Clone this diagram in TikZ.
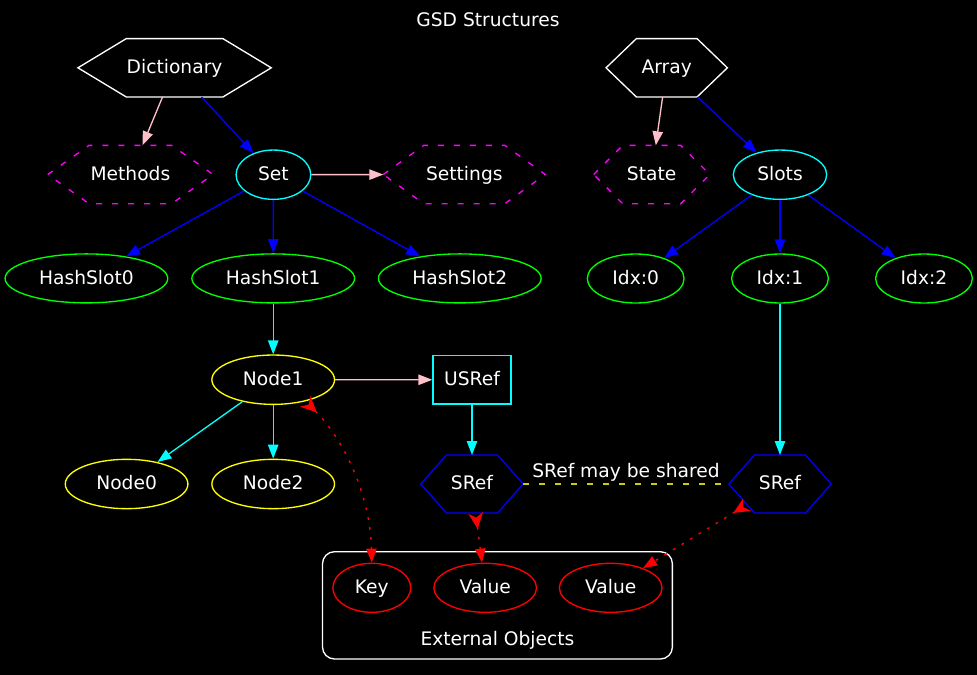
\documentclass[tikz,border=0pt]{standalone}
\usepackage{fontspec}
\setmainfont{DejaVu Sans}
\usetikzlibrary{shapes.geometric,arrows.meta,calc}
\definecolor{gvpink}{RGB}{255,192,203}
\definecolor{gvyel}{RGB}{205,205,0}
\definecolor{gvgreen}{RGB}{0,255,0}
\definecolor{gvcyan}{RGB}{0,255,255}
\definecolor{gvmag}{RGB}{255,0,255}
\definecolor{gvyellow}{RGB}{255,255,0}
\definecolor{gvblue}{RGB}{0,0,255}
\definecolor{gvred}{RGB}{255,0,0}
\definecolor{gvwhite}{RGB}{255,255,255}
\newcommand\gvhex[2]{%
  \draw[line width=1bp,#2] (#1.west) -- ($(#1.north west)!.25!(#1.north east)$) -- ($(#1.north west)!.75!(#1.north east)$) -- (#1.east) -- ($(#1.south west)!.75!(#1.south east)$) -- ($(#1.south west)!.25!(#1.south east)$) -- cycle;}
\tikzset{
  gvbase/.style={inner sep=0pt, text=gvwhite, font=\fontsize{14bp}{16bp}\selectfont, text height=11bp, text depth=2.2bp, line width=1bp},
  gvell/.style={gvbase, ellipse, minimum height=36.75bp},
  gvhexnode/.style={gvbase, rectangle, draw=none, minimum height=42.75bp},
  gvbox/.style={gvbase, rectangle, minimum width=58.5bp, minimum height=36.2bp},
  gvtxt/.style={gvbase},
  gvarr/.style={line width=1bp, -{Triangle[length=10.5bp,width=7.8bp]}},
  gvdash/.style={dash pattern=on 4.5bp off 7.5bp},
  gvref/.style={line width=1bp, gvred, dash pattern=on 2bp off 5.5bp,
     {Stealth[length=12bp,width=11bp,inset=3.5bp,reversed]}-{Triangle[length=10.5bp,width=7.8bp]}},
}
\begin{document}
\begin{tikzpicture}[x=0.75bp,y=-0.75bp]
\fill[black] (0,0) rectangle (977,675);
\path[use as bounding box] (0,0) rectangle (977,675);

\node[gvtxt] (title) at (488,20.5) {GSD Structures};

% cluster
\draw[gvwhite, line width=1bp, rounded corners=9bp] (322.5,551.7) rectangle (672.4,659);
\node[gvtxt] (extlabel) at (497.5,640) {External Objects};

% top row
\node[gvhexnode, minimum width=144bp] (dict) at (174.6,67.8) {Dictionary};
\node[gvhexnode, minimum width=90bp] (array) at (666.7,67.8) {Array};
\gvhex{dict}{gvwhite}
\gvhex{array}{gvwhite}

% second row
\node[gvhexnode, minimum width=123bp] (methods) at (130.4,174.5) {Methods};
\node[gvhexnode, minimum width=120.5bp] (settings) at (464.3,174.5) {Settings};
\node[gvhexnode, minimum width=86bp] (state) at (651.7,174.5) {State};
\gvhex{methods}{gvmag,gvdash}
\gvhex{settings}{gvmag,gvdash}
\gvhex{state}{gvmag,gvdash}
\node[gvell, draw=gvcyan, minimum width=56bp, minimum height=37bp] (set) at (273.4,174.7) {Set};
\node[gvell, draw=gvcyan, minimum width=70bp, minimum height=37bp] (slots) at (780,174.7) {Slots};

% third row
\node[gvell, draw=gvgreen, minimum width=122bp] (hs0) at (86.4,278.4) {HashSlot0};
\node[gvell, draw=gvgreen, minimum width=122bp] (hs1) at (273.2,278.4) {HashSlot1};
\node[gvell, draw=gvgreen, minimum width=122bp] (hs2) at (459.8,278.4) {HashSlot2};
\node[gvell, draw=gvgreen, minimum width=72.5bp] (idx0) at (635.7,278.5) {Idx:0};
\node[gvell, draw=gvgreen, minimum width=72.5bp] (idx1) at (780,278.5) {Idx:1};
\node[gvell, draw=gvgreen, minimum width=72.5bp] (idx2) at (924,278.5) {Idx:2};

% fourth row
\node[gvell, draw=gvyellow, minimum width=92bp, minimum height=37bp] (node1) at (273.2,379.7) {Node1};
\node[gvbox, draw=gvcyan] (usref) at (472,379.8) {USRef};

% fifth row
\node[gvell, draw=gvyellow, minimum width=92bp, minimum height=37bp] (node0) at (126.6,484) {Node0};
\node[gvell, draw=gvyellow, minimum width=92bp, minimum height=37bp] (node2) at (273.2,484) {Node2};
\node[gvhexnode, minimum width=75.75bp, minimum height=42.5bp] (sref1) at (472,484) {SRef};
\node[gvhexnode, minimum width=75.75bp, minimum height=42.5bp] (sref2) at (780,484) {SRef};
\gvhex{sref1}{gvblue}
\gvhex{sref2}{gvblue}

% external objects
\node[gvell, draw=gvred, minimum width=58.4bp] (key) at (371.8,587.8) {Key};
\node[gvell, draw=gvred, minimum width=77bp] (val1) at (485.2,587.8) {Value};
\node[gvell, draw=gvred, minimum width=77bp] (val2) at (610.7,587.8) {Value};

% edges
\draw[gvarr, gvpink] (dict) -- (methods);
\draw[gvarr, gvblue] (dict) -- (set);
\draw[gvarr, gvpink] (set) -- (settings);
\draw[gvarr, gvblue] (set) -- (hs0);
\draw[gvarr, gvblue] (set) -- (hs1);
\draw[gvarr, gvblue] (set) -- (hs2);
\draw[gvarr, gvpink] (array) -- (state);
\draw[gvarr, gvblue] (array) -- (slots);
\draw[gvarr, gvblue] (slots) -- (idx0);
\draw[gvarr, gvblue] (slots) -- (idx1);
\draw[gvarr, gvblue] (slots) -- (idx2);
\draw[gvarr, gvcyan] (hs1) -- (node1);
\draw[gvarr, gvpink] (node1) -- (usref);
\draw[gvarr, gvcyan] (node1) -- (node0);
\draw[gvarr, gvcyan] (node1) -- (node2);
\draw[gvarr, gvcyan] (usref) -- (sref1);
\draw[gvarr, gvcyan] (idx1) -- (sref2);
\draw[line width=1bp, gvyel, gvdash] (sref1.east) -- node[gvtxt, midway, yshift=9.5bp] (sharedlbl) {SRef may be shared} (sref2.west);

\coordinate (s2bl) at ($(sref2.south west)!.25!(sref2.south east)$);
\coordinate (s2a) at ($(sref2.west)!.711!(s2bl)$);
\draw[gvref] (node1.-34) .. controls (340,435) and (370,490) .. (key.north);
\draw[gvref] (sref1) -- (val1);
\draw[gvref] (s2a) -- (val2);
\end{tikzpicture}
\end{document}
